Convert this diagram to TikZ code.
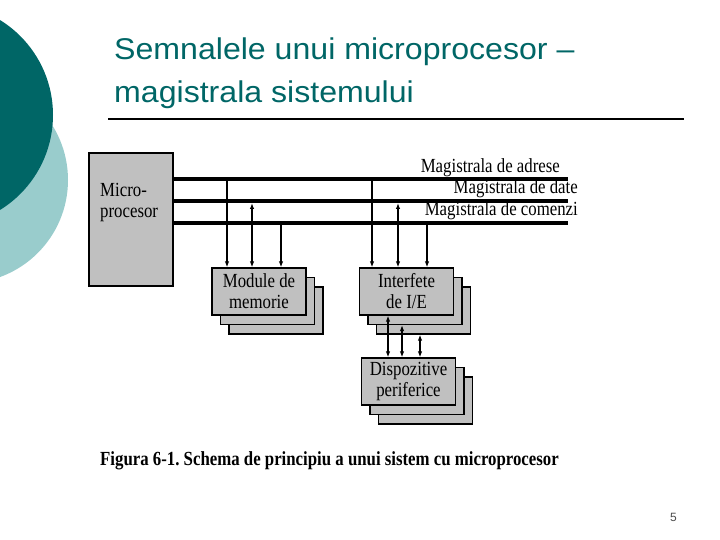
\documentclass[tikz,border=0pt]{standalone}
\usepackage{fontspec}
\setmainfont[FakeStretch=0.84]{Liberation Serif}
\newfontfamily\titlefont[FakeStretch=1.07]{Liberation Sans}
\newfontfamily\pagefont{Liberation Sans}
\usetikzlibrary{arrows.meta, positioning, shadows}
\definecolor{tealdark}{RGB}{0,102,102}
\definecolor{teallight}{RGB}{153,204,204}
\definecolor{boxgray}{RGB}{192,192,192}
\frenchspacing

\begin{document}
\begin{tikzpicture}[
    x=1pt, y=-1pt,
    every node/.style={font=\fontsize{20}{21}\selectfont}, % 统一字体
    bus/.style={line width=4pt}, % 总线(粗线)
    arr/.style={line width=1.5pt, -{Latex[length=6pt,width=4.5pt]}}, % 单向箭头
    dblarr/.style={line width=1.5pt, {Latex[length=6pt,width=4.5pt]}-{Latex[length=6pt,width=4.5pt]}}, % 双向箭头
    unit/.style={draw, line width=1.3pt, fill=boxgray, minimum width=94pt, minimum height=47pt,
        inner sep=0pt, align=center,
        double copy shadow={shadow xshift=8.5pt, shadow yshift=-9.5pt}}, % 叠放的模块
    buslabel/.style={anchor=base east, inner sep=0pt} % 总线名称
]
    \useasboundingbox (0,0) rectangle (720,540);

    % 1. 左上角的两个圆
    \begin{scope}
        \clip (0,0) rectangle (720,540);
        \fill[teallight] (-35.2,180) circle (103.2);
        \fill[tealdark] (-58.6,115) circle (111.6);
    \end{scope}

    % 2. 标题和横线
    \node[font=\titlefont\fontsize{30}{43}\selectfont, text=tealdark, anchor=base west, inner sep=0pt]
        (t1) at (114,60) {Semnalele unui microprocesor –};
    \node[font=\titlefont\fontsize{30}{43}\selectfont, text=tealdark, anchor=base west, inner sep=0pt]
        (t2) at (114,103) {magistrala sistemului};
    \draw[line width=1.5pt] (108,119) -- (684,119);

    % 3. 微处理器
    \node[draw, line width=1.3pt, fill=boxgray, minimum width=84pt, minimum height=133pt, inner sep=0pt]
        (mp) at (131,219.5) {};
    \node[anchor=base west, align=left, inner sep=0pt] (mptxt) at (100,218) {Micro-\\procesor};

    % 4. 三条总线
    \coordinate (ba) at (568,179);
    \coordinate (bd) at (568,201);
    \coordinate (bc) at (568,223);
    \draw[bus] (mp.east |- ba) -- (ba);
    \draw[bus] (mp.east |- bd) -- (bd);
    \draw[bus] (mp.east |- bc) -- (bc);
    \node[buslabel] (la) at (560,173) {Magistrala de adrese};
    \node[buslabel] (ld) at (578,194) {Magistrala de date};
    \node[buslabel] (lc) at (578,215) {Magistrala de comenzi};

    % 5. 模块(带阴影副本)
    \node[unit] (mem) at (259,291.5) {Module de\\memorie};
    \node[unit] (ie) at (406.5,291.5) {Interfete\\de I/E};
    \node[unit] (dp) at (408.5,381.5) {Dispozitive\\periferice};

    % 6. 总线到模块的箭头
    \coordinate (m1) at (227,0);
    \coordinate (m2) at (252,0);
    \coordinate (m3) at (281,0);
    \coordinate (i1) at (372,0);
    \coordinate (i2) at (398,0);
    \coordinate (i3) at (427,0);
    \draw[arr] (m1 |- ba) -- (m1 |- mem.north);
    \draw[dblarr] ([yshift=-2pt]m2 |- bd) -- (m2 |- mem.north);
    \draw[arr] (m3 |- bc) -- (m3 |- mem.north);
    \draw[arr] (i1 |- ba) -- (i1 |- ie.north);
    \draw[dblarr] ([yshift=-2pt]i2 |- bd) -- (i2 |- ie.north);
    \draw[arr] (i3 |- bc) -- (i3 |- ie.north);

    % 7. 接口到外设的双向箭头
    \coordinate (d1) at (388,0);
    \coordinate (d2) at (402,0);
    \coordinate (d3) at (420,0);
    \draw[dblarr] (d1 |- ie.south) -- (d1 |- dp.north);
    \draw[dblarr] ([yshift=-9.5pt]d2 |- ie.south) -- (d2 |- dp.north);
    \draw[dblarr] ([yshift=-19pt]d3 |- ie.south) -- (d3 |- dp.north);

    % 8. 图注和页码
    \node[font=\bfseries\fontsize{20}{21}\selectfont, anchor=base west, inner sep=0pt]
        (cap) at (100,465) {Figura 6-1. Schema de principiu a unui sistem cu microprocesor};
    \node[font=\pagefont\fontsize{12}{14}\selectfont, text=black!70, anchor=base east, inner sep=0pt]
        (pg) at (677,521) {5};
\end{tikzpicture}
\end{document}
